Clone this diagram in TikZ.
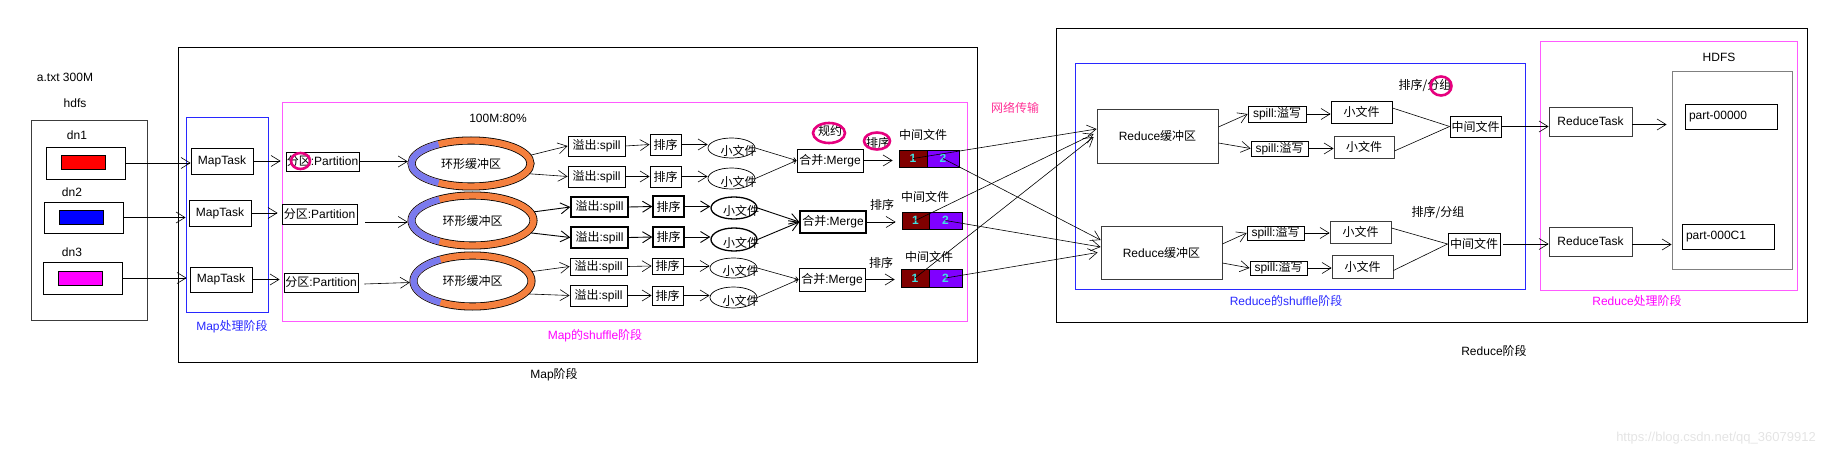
\documentclass[tikz,border=0pt]{standalone}
\usepackage{fontspec}
\setmainfont{Liberation Sans}
\newfontfamily\zhfont{Noto Sans CJK SC}
\newcommand\zh[1]{{\zhfont #1}}
\newcommand\fs{\fontsize{12}{14}\selectfont}
\usetikzlibrary{shapes.geometric,arrows.meta}
\definecolor{ringor}{RGB}{245,128,62}
\definecolor{ringbl}{RGB}{122,122,238}
\definecolor{cellred}{RGB}{128,0,0}
\definecolor{cellpur}{RGB}{128,0,255}
\definecolor{cellnum}{RGB}{64,224,224}
\definecolor{mblue}{RGB}{40,40,255}
\definecolor{mpink}{RGB}{255,90,255}
\definecolor{mmag}{RGB}{255,0,255}
\definecolor{netpink}{RGB}{255,50,150}
\definecolor{circc}{RGB}{230,0,126}
\definecolor{wmk}{RGB}{228,228,228}
\definecolor{dngray}{RGB}{60,60,60}
\begin{document}
\begin{tikzpicture}[x=1pt,y=-1pt,
  every node/.style={font=\fs, inner sep=0pt, anchor=center},
  wh/.style 2 args={minimum width=#1pt, minimum height=#2pt},
  bx/.style={draw, rectangle, line width=0.8pt},
  bxt/.style={draw, rectangle, line width=1.3pt},
  ell/.style={draw, ellipse, line width=0.7pt},
  ellt/.style={draw, ellipse, line width=1.3pt},
  frame/.style={draw, rectangle, line width=1pt},
  arr/.style={-{Straight Barb[length=9pt,width=11pt,line width=0.6pt]}, line width=0.6pt},
  arrt/.style={-{Straight Barb[length=9pt,width=11pt,line width=0.9pt]}, line width=0.9pt},
  sarr/.style={-{Straight Barb[length=3pt,width=4pt,line width=0.6pt]}, line width=0.6pt},
  pl/.style={line width=0.6pt},
  cella/.style={draw, rectangle, line width=0.7pt, fill=cellred, text=cellnum, font=\bfseries\fs},
  cellb/.style={draw, rectangle, line width=0.7pt, fill=cellpur, text=cellnum, font=\bfseries\fs},
  circ/.style={draw=circc, line width=2.6pt},
  ringnode/.style={ellipse, draw=none}
]
\useasboundingbox (0,0) rectangle (1848,457);

% ---------------- left: hdfs ----------------
\node (atxt) at (65,77) {a.txt 300M};
\node (hdfslbl) at (75,103) {hdfs};
\node[frame, draw=dngray, wh={116}{199}] (hdfsbox) at (89,220.5) {};
\node (dn1) at (77,135) {dn1};
\node (dn2) at (72,192) {dn2};
\node (dn3) at (72,252) {dn3};
\node[bx, wh={79}{32}] (dn1box) at (85.5,163) {};
\node[bx, wh={79}{31}] (dn2box) at (83.5,217.5) {};
\node[bx, wh={79}{32}] (dn3box) at (82.5,278) {};
\node[draw, line width=0.5pt, fill=red, wh={44}{14}] (blk1) at (83,162) {};
\node[draw, line width=0.5pt, fill=blue, wh={44}{14}] (blk2) at (81,217) {};
\node[draw, line width=0.5pt, fill=mmag, wh={44}{14}] (blk3) at (80,278) {};

% ---------------- Map stage frames ----------------
\node[frame, wh={799}{314}] (mapbox) at (577.5,205) {};
\node (maplbl) at (554,375) {Map\zh{阶段}};
\node[draw=mblue, line width=0.8pt, rectangle, wh={82}{195}] (mapproc) at (227,214.5) {};
\node[text=mblue] (mapproclbl) at (232,327) {Map\zh{处理阶段}};
\node[draw=mpink, line width=1pt, rectangle, wh={685}{218}] (shufbox) at (624.5,212) {};
\node[text=mmag] (shuflbl) at (595,336) {Map\zh{的}shuffle\zh{阶段}};

% MapTask
\node[bx, wh={62}{26}] (mt1) at (222,161) {MapTask};
\node[bx, wh={62}{26}] (mt2) at (220,213) {MapTask};
\node[bx, wh={62}{25}] (mt3) at (221,279.5) {MapTask};
\draw[arr] (dn1box.east) -- (dn1box.east -| mt1.west);
\draw[arr] (dn2box.east) -- ([xshift=-3pt]dn2box.east -| mt2.west);
\draw[arr] (dn3box.east) -- ([xshift=-3pt]dn3box.east -| mt3.west);

% Partition
\node[bx, wh={73}{19}] (pt1) at (322.5,161.5) {\zh{分区}:Partition};
\node[bx, wh={75}{20}] (pt2) at (319.5,214) {\zh{分区}:Partition};
\node[bx, wh={74}{19}] (pt3) at (321,282.5) {\zh{分区}:Partition};
\draw[arr, shorten >=5pt] (mt1.east) -- (mt1.east -| pt1.west);
\draw[arr, shorten >=4pt] (mt2.east) -- (mt2.east -| pt2.west);
\draw[arr, shorten >=4pt] (mt3.east) -- (mt3.east -| pt3.west);

% rings
\node (pct) at (498,118) {100M:80\%};
\node[ringnode, wh={126}{53}] (ring1) at (471,163.5) {\zh{环形缓冲区}};
\node[ringnode, wh={129}{57}] (ring2) at (472.5,220.5) {\zh{环形缓冲区}};
\node[ringnode, wh={125}{58}] (ring3) at (472.5,281) {\zh{环形缓冲区}};
\foreach \r/\a/\b in {ring1/59.5/23, ring2/61/25, ring3/59/25.5}{
  \draw[black, line width=8pt] (\r.center) ellipse[x radius=\a, y radius=\b];
  \draw[ringor, line width=6.4pt] (\r.center) ellipse[x radius=\a, y radius=\b];
  \draw[ringbl, line width=6.4pt] ([shift={(123:\a\space and \b)}]\r.center)
     arc[start angle=123, end angle=237, x radius=\a, y radius=\b];
}
\draw[arr] (pt1.east) -- (pt1.east -| ring1.west);
\draw[arr] ([xshift=8pt,yshift=-8pt]pt2.east) -- ([yshift=-1.5pt]ring2.west);
\draw[arr] ([xshift=6pt,yshift=-1.5pt]pt3.east) -- ([yshift=-1.5pt]ring3.west);

% spill boxes
\node[bx, wh={57}{20}] (sp1a) at (596.5,146) {\zh{溢出}:spill};
\node[bx, wh={57}{21}] (sp1b) at (596.5,176.5) {\zh{溢出}:spill};
\node[bxt, wh={57}{20}] (sp2a) at (599.5,207) {\zh{溢出}:spill};
\node[bxt, wh={57}{21}] (sp2b) at (599.5,237.5) {\zh{溢出}:spill};
\node[bx, wh={57}{17}] (sp3a) at (598.5,266.5) {\zh{溢出}:spill};
\node[bx, wh={57}{21}] (sp3b) at (598.5,295.5) {\zh{溢出}:spill};
\draw[arr] (ring1.8) -- (sp1a.west);
\draw[arr] (ring1.-10) -- (sp1b.west);
\draw[arrt] (ring2.8) -- (sp2a.west);
\draw[arrt] (ring2.-12) -- (sp2b.west);
\draw[arr] (ring3.9) -- (sp3a.west);
\draw[arr] (ring3.-13) -- (sp3b.west);

% sort boxes
\node[bx, wh={31}{21}] (so1a) at (665.5,144.5) {\zh{排序}};
\node[bx, wh={31}{21}] (so1b) at (665.5,176.5) {\zh{排序}};
\node[bxt, wh={31}{21}] (so2a) at (668.5,206.5) {\zh{排序}};
\node[bxt, wh={31}{20}] (so2b) at (668.5,237) {\zh{排序}};
\node[bx, wh={31}{16}] (so3a) at (667.5,266) {\zh{排序}};
\node[bx, wh={31}{19}] (so3b) at (667.5,295.5) {\zh{排序}};
\foreach \s in {1a,1b,3a,3b}{\draw[arr] (sp\s.east) -- (so\s.west);}
\foreach \s in {2a,2b}{\draw[arrt] (sp\s.east) -- (so\s.west);}

% small-file ellipses
\node[ell, wh={47}{20}] (sf1a) at (731.5,148) {};
\node[ell, wh={47}{21}] (sf1b) at (731.5,178.5) {};
\node[ellt, wh={46}{22}] (sf2a) at (734,208) {};
\node[ellt, wh={46}{23}] (sf2b) at (734,239.5) {};
\node[ell, wh={47}{20}] (sf3a) at (733.5,268) {};
\node[ell, wh={47}{21}] (sf3b) at (733.5,297.5) {};
\foreach \s in {1a,1b,2a,2b,3a,3b}{
  \node (sf\s t) at ([xshift=7pt,yshift=-3pt]sf\s.center) {\zh{小文件}};
}
\foreach \s in {1a,1b,3a,3b}{\draw[arr] (so\s.east) -- (so\s.east -| sf\s.west);}
\foreach \s in {2a,2b}{\draw[arrt] (so\s.east) -- (so\s.east -| sf\s.west);}

% merge
\node[bx, wh={66}{23}] (mg1) at (830,160.5) {\zh{合并}:Merge};
\node[bxt, wh={66}{22}] (mg2) at (833,222) {\zh{合并}:Merge};
\node[bx, wh={66}{23}] (mg3) at (832,279.5) {\zh{合并}:Merge};
\draw[sarr] (sf1a.east) -- (mg1.west);
\draw[sarr] (sf1b.east) -- (mg1.west);
\draw[arrt] (sf2a.east) -- (mg2.west);
\draw[arrt] (sf2b.east) -- (mg2.west);
\draw[sarr] (sf3a.east) -- (mg3.west);
\draw[sarr] (sf3b.east) -- (mg3.west);

\node (guiyue) at (830,131) {\zh{规约}};
\node (px1) at (878,143) {\zh{排序}};
\node (px2) at (882,205) {\zh{排序}};
\node (px3) at (881,263) {\zh{排序}};
\node (zj1) at (923,135) {\zh{中间文件}};
\node (zj2) at (925,197) {\zh{中间文件}};
\node (zj3) at (929,257) {\zh{中间文件}};

% intermediate file cells
\node[cella, wh={28}{17}] (c11) at (913,158.5) {1};
\node[cellb, wh={32}{17}] (c12) at (943,158.5) {2};
\node[cella, wh={27}{17}] (c21) at (915.5,220.5) {1};
\node[cellb, wh={33}{17}] (c22) at (945.5,220.5) {2};
\node[cella, wh={28}{18}] (c31) at (915,278) {1};
\node[cellb, wh={33}{18}] (c32) at (945.5,278) {2};
\draw[arr, shorten >=6pt] (mg1.east) -- (mg1.east -| c11.west);
\draw[arr, shorten >=6pt] (mg2.east) -- (mg2.east -| c21.west);
\draw[arr, shorten >=6pt] (mg3.east) -- (mg3.east -| c31.west);

% ---------------- Reduce stage frames ----------------
\node[frame, wh={751}{293}] (redbox) at (1431.5,175.5) {};
\node (redlbl) at (1494,351) {Reduce\zh{阶段}};
\node[draw=mblue, line width=1pt, rectangle, wh={450}{225}] (rshuf) at (1300,176.5) {};
\node[text=mblue] (rshuflbl) at (1286,301) {Reduce\zh{的}shuffle\zh{阶段}};
\node[draw=mpink, line width=1pt, rectangle, wh={257}{248}] (rproc) at (1668.5,166) {};
\node[text=mmag] (rproclbl) at (1637,301) {Reduce\zh{处理阶段}};
\node[text=netpink] (net) at (1015,108) {\zh{网络传输}};

% reduce buffers
\node[bx, draw=dngray, wh={121}{54}] (rb1) at (1157.5,136) {Reduce\zh{缓冲区}};
\node[bx, draw=dngray, wh={121}{53}] (rb2) at (1161.5,252.5) {Reduce\zh{缓冲区}};

% network connectors
\draw[arr] (c11.center) -- ([yshift=7pt]rb1.west);
\draw[arr] (c21.center) -- ([xshift=-3pt,yshift=2pt]rb1.west);
\draw[arr] (c31.center) -- ([xshift=-3pt,yshift=-1pt]rb1.west);
\draw[arr] (c12.center) -- ([yshift=12.5pt]rb2.west);
\draw[arr] (c22.center) -- ([yshift=5.5pt]rb2.west);
\draw[arr] (c32.center) -- ([xshift=-3pt]rb2.west);

% reduce spill
\node[bx, wh={58}{16}] (rs1a) at (1277,114) {spill:\zh{溢写}};
\node[bx, wh={57}{15}] (rs1b) at (1279.5,148.5) {spill:\zh{溢写}};
\node[bx, wh={57}{14}] (rs2a) at (1275.5,233) {spill:\zh{溢写}};
\node[bx, wh={57}{14}] (rs2b) at (1278.5,268) {spill:\zh{溢写}};
\draw[arr] ([yshift=9pt]rb1.east) -- (rs1a.west);
\draw[arr] ([yshift=-7pt]rb1.east) -- (rs1b.west);
\draw[arr] ([yshift=8.5pt]rb2.east) -- (rs2a.west);
\draw[arr] ([yshift=-10.5pt]rb2.east) -- (rs2b.west);

% reduce small files
\node[bx, wh={61}{22}] (rf1a) at (1361.5,112) {\zh{小文件}};
\node[bx, draw=dngray, wh={60}{22}] (rf1b) at (1364,147) {\zh{小文件}};
\node[bx, draw=dngray, wh={61}{22}] (rf2a) at (1360.5,232) {\zh{小文件}};
\node[bx, draw=dngray, wh={61}{23}] (rf2b) at (1362.5,266.5) {\zh{小文件}};
\foreach \s in {1a,1b,2a,2b}{\draw[arr] (rs\s.east) -- (rs\s.east -| rf\s.west);}

% reduce intermediate
\node (rsg1) at (1425,86) {\zh{排序/分组}};
\node (rsg2) at (1438,213) {\zh{排序/分组}};
\node[bx, wh={51}{21}] (rm1) at (1475.5,126.5) {\zh{中间文件}};
\node[bx, wh={52}{22}] (rm2) at (1474,244) {\zh{中间文件}};
\draw[pl] ([yshift=4pt]rf1a.east) -- (rm1.west);
\draw[pl] ([yshift=-4pt]rf1b.east) -- (rm1.west);
\draw[pl] ([yshift=4pt]rf2a.east) -- (rm2.west);
\draw[pl] ([yshift=-4pt]rf2b.east) -- (rm2.west);

% reduce tasks and HDFS
\node (hdfsr) at (1719,57) {HDFS};
\node[frame, draw=gray, wh={120}{198}] (hdfsout) at (1732,171) {};
\node[bx, draw=dngray, wh={83}{29}] (rt1) at (1590.5,121.5) {ReduceTask};
\node[bx, draw=dngray, wh={83}{29}] (rt2) at (1590.5,241.5) {ReduceTask};
\draw[arr] (rm1.east) -- (rm1.east -| rt1.west);
\draw[arr, shorten <=3pt] (rm2.east) -- (rm2.east -| rt2.west);
\node[bx, wh={92}{25}, text width=84pt, align=left] (p1) at (1731,116.5) {part-00000};
\node[bx, wh={92}{25}, text width=84pt, align=left] (p2) at (1728,236.5) {part-000C1};
\draw[arr, shorten >=18pt] ([yshift=-3pt]rt1.east) -- ([yshift=-3pt]rt1.east -| p1.west);
\draw[arr, shorten >=10pt] ([yshift=-3pt]rt2.east) -- ([yshift=-3pt]rt2.east -| p2.west);

% magenta annotation circles
\draw[circ] (300.5,161) ellipse[x radius=9.5, y radius=8];
\draw[circ] (829,133) ellipse[x radius=16, y radius=10];
\draw[circ] (877,141) ellipse[x radius=13, y radius=8.5];
\draw[circ] (1441,86) ellipse[x radius=10.5, y radius=9.5];

% watermark
\node[text=wmk, font=\fontsize{13}{15}\selectfont] (wm) at (1716,438) {https://blog.csdn.net/qq\_36079912};
\end{tikzpicture}
\end{document}
